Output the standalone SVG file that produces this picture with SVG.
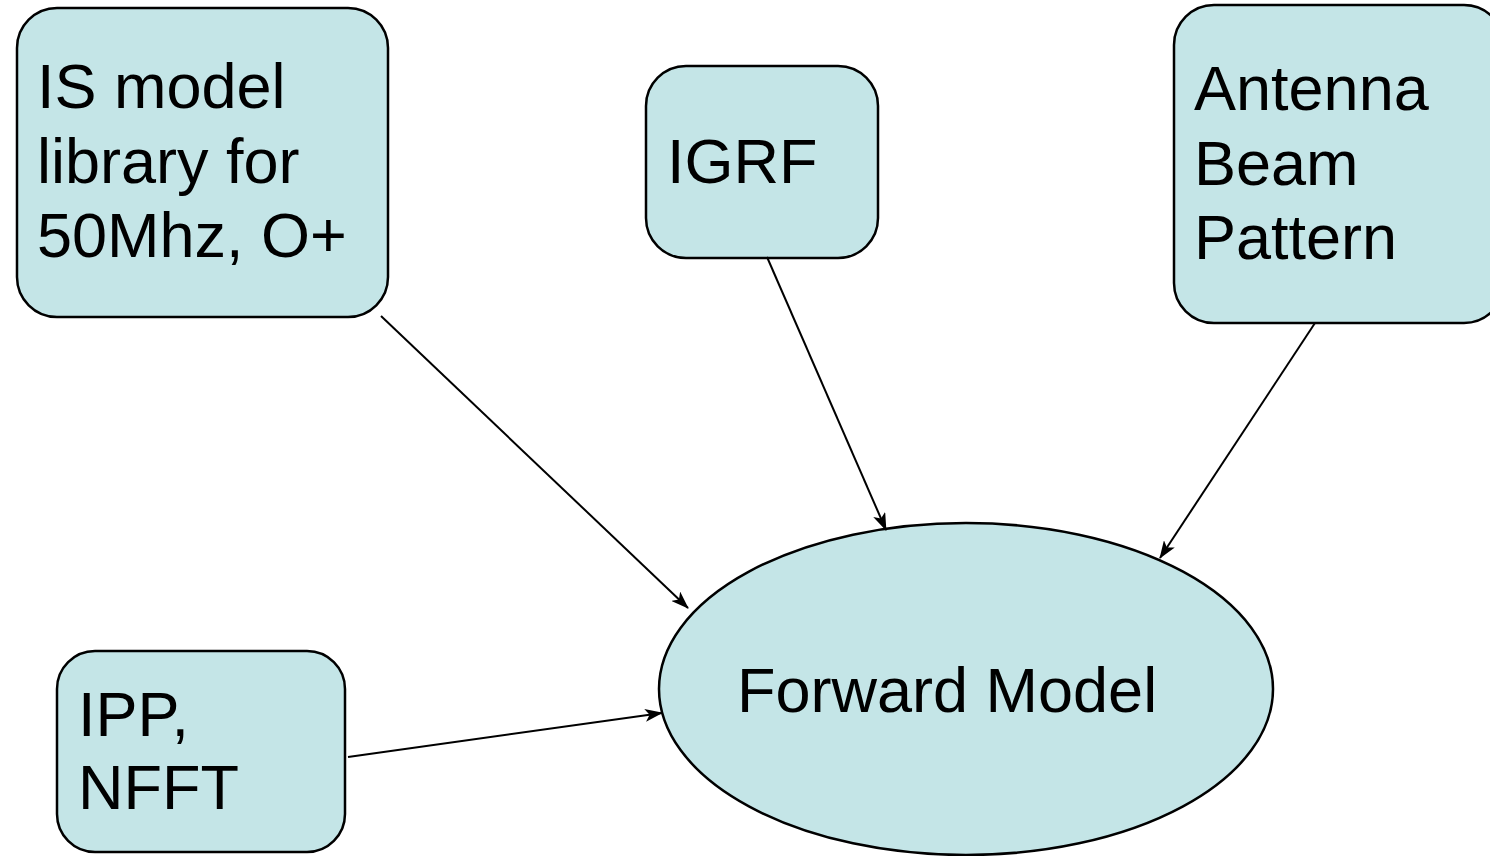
<svg xmlns="http://www.w3.org/2000/svg" width="1490" height="856" viewBox="0 0 1490 856">
  <style>
    .box { fill: #c4e5e7; stroke: #000; stroke-width: 2.5; }
    .lbl { font-family: "Liberation Sans", Arial, sans-serif; font-size: 63px; fill: #000; }
    .edge { stroke: #000; stroke-width: 2; fill: none; marker-end: url(#arr); }
  </style>
  <defs>
    <marker id="arr" viewBox="0 0 18 13" refX="17" refY="6.5" markerWidth="18" markerHeight="13" markerUnits="userSpaceOnUse" orient="auto">
      <path d="M0,0 L18,6.5 L0,13 L4.5,6.5 z" fill="#000"/>
    </marker>
  </defs>
  <rect width="1490" height="856" fill="#fff"/>
  <g id="node-is-model">
    <rect class="box" x="17" y="8" width="371" height="309" rx="40" ry="40"/>
    <text class="lbl" x="37" y="108">IS model</text>
    <text class="lbl" x="37" y="183">library for</text>
    <text class="lbl" x="37" y="257">50Mhz, O+</text>
  </g>
  <g id="node-igrf">
    <rect class="box" x="646" y="66" width="232" height="192" rx="40" ry="40"/>
    <text class="lbl" x="667" y="183">IGRF</text>
  </g>
  <g id="node-antenna">
    <rect class="box" x="1174" y="5" width="330" height="318" rx="40" ry="40"/>
    <text class="lbl" x="1194" y="110">Antenna</text>
    <text class="lbl" x="1194" y="185">Beam</text>
    <text class="lbl" x="1194" y="259">Pattern</text>
  </g>
  <g id="node-ipp">
    <rect class="box" x="57" y="651" width="288" height="201" rx="38" ry="38"/>
    <text class="lbl" x="78" y="736">IPP,</text>
    <text class="lbl" x="78" y="809">NFFT</text>
  </g>
  <g id="node-forward">
    <ellipse class="box" cx="966" cy="689" rx="307" ry="166"/>
    <text class="lbl" x="737" y="712">Forward Model</text>
  </g>
  <g id="connectors">
    <line class="edge" x1="381" y1="316" x2="688" y2="608"/>
    <line class="edge" x1="767" y1="257" x2="886" y2="530"/>
    <line class="edge" x1="1315" y1="323" x2="1160" y2="558"/>
    <line class="edge" x1="348" y1="757" x2="662" y2="713"/>
  </g>
</svg>
